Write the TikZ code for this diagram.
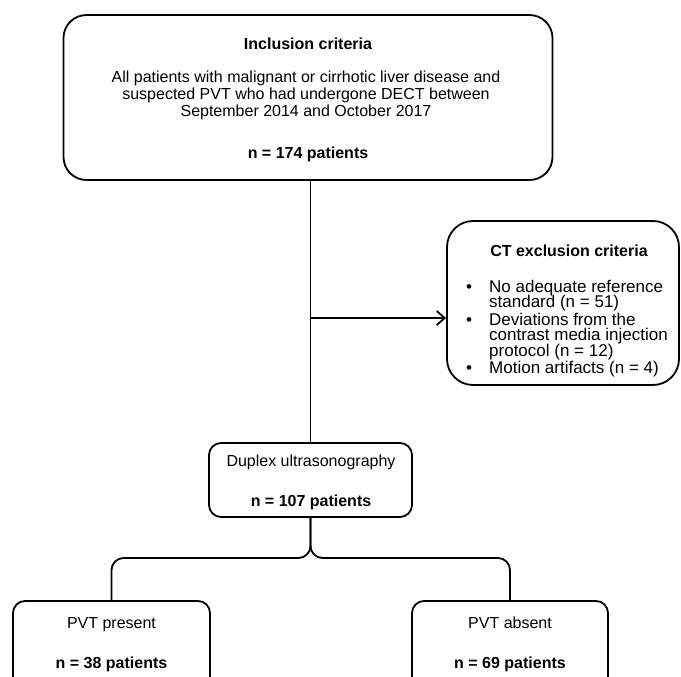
\documentclass[tikz,border=0pt]{standalone}
\usepackage{fontspec}
\setmainfont{Liberation Sans}
\usetikzlibrary{arrows.meta}
\newcommand{\exitem}[1]{\hbox{\hbox to 23pt{•\hss}#1}}
\newcommand{\exline}[1]{\hbox{\hskip 23pt #1}}
\tikzset{
  box/.style={draw=black, line width=1.8pt, rectangle, inner sep=0pt},
  conn/.style={draw=black, line width=1.8pt},
  txt/.style={anchor=base, inner sep=0pt},
  ltxt/.style={anchor=base west, inner sep=0pt},
  reg/.style={font=\fontsize{16}{17}\selectfont},
  bld/.style={font=\fontsize{16}{17}\selectfont\bfseries},
  exf/.style={font=\fontsize{17}{15}\selectfont},
}
\begin{document}
\begin{tikzpicture}[x=1pt,y=-1pt]
\useasboundingbox (0,0) rectangle (681,677);
% boxes
\node[box, rounded corners=23pt, minimum width=489pt, minimum height=165pt] (top) at (308,97.5) {};
\node[box, rounded corners=26pt, minimum width=232pt, minimum height=164pt] (excl) at (563,303) {};
\node[box, rounded corners=12pt, minimum width=203pt, minimum height=74pt] (dup) at (310.5,480) {};
\node[box, rounded corners=12pt, minimum width=197pt, minimum height=89pt] (pl) at (111.5,645.5) {};
\node[box, rounded corners=12pt, minimum width=196pt, minimum height=89pt] (pa) at (510,645.5) {};
% top texts
\node[txt, bld] (t1) at (308,50) {Inclusion criteria};
\node[txt, reg] (t2) at (306,83) {All patients with malignant or cirrhotic liver disease and};
\node[txt, reg] (t3) at (306,100) {suspected PVT who had undergone DECT between};
\node[txt, reg] (t4) at (306,117) {September 2014 and October 2017};
\node[txt, bld] (t5) at (308,158) {n = 174 patients};
% exclusion texts
\node[txt, bld] (e0) at (569,256) {CT exclusion criteria};
\node[ltxt, exf] (elist) at (466,292) {\vtop{\baselineskip=15.5pt \lineskiplimit=-100pt
  \exitem{No adequate reference}
  \exline{standard (n = 51)}
  \vskip 2pt
  \exitem{Deviations from the}
  \exline{contrast media injection}
  \exline{protocol (n = 12)}
  \vskip 1.5pt
  \exitem{Motion artifacts (n = 4)}}};
% duplex texts
\node[txt, reg] (d1) at (311,466) {Duplex ultrasonography};
\node[txt, bld] (d2) at (311,506) {n = 107 patients};
% bottom texts
\node[txt, reg] (p1) at (111.5,628) {PVT present};
\node[txt, bld] (p2) at (111.5,668) {n = 38 patients};
\node[txt, reg] (a1) at (510,628) {PVT absent};
\node[txt, bld] (a2) at (510,668) {n = 69 patients};
% connectors
\coordinate (hy) at (0,558);
\coordinate (ay) at (0,318);
\draw[conn] (dup.north |- top.south) -- (dup.north);
\draw[conn, -{Straight Barb[length=8pt,width=14pt]}] (dup.north |- ay) -- (excl.west |- ay);
\draw[conn, rounded corners=12pt] (dup.south) -- (dup.south |- hy) -- (pl.north |- hy) -- (pl.north);
\draw[conn, rounded corners=12pt] (dup.south) -- (dup.south |- hy) -- (pa.north |- hy) -- (pa.north);
\end{tikzpicture}
\end{document}
